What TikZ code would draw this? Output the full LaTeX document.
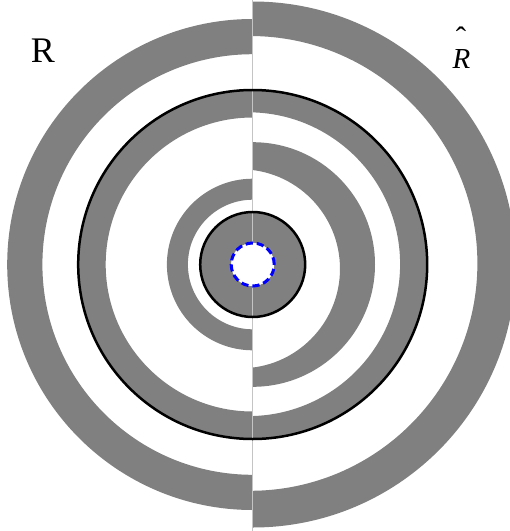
\documentclass[tikz,border=0pt]{standalone}
\usepackage{fontspec}
\setmainfont{Liberation Serif}
\definecolor{ringgray}{HTML}{808080}
\definecolor{seamgray}{HTML}{C4C4C4}
\tikzset{
  band/.style={fill=ringgray, even odd rule},
  ringline/.style={draw=black, line width=2.5pt},
  seamline/.style={draw=seamgray, line width=0.8pt},
  holeline/.style={draw=blue, fill=white, line width=3pt, dash pattern=on 7.3pt off 3.9pt},
  bigtxt/.style={font=\fontsize{36}{40}\selectfont, inner sep=0pt, anchor=base},
  hattxt/.style={font=\fontsize{29}{32}\selectfont\itshape, inner sep=0pt, anchor=base}
}
\begin{document}
\begin{tikzpicture}[x=1pt,y=-1pt]
\useasboundingbox (0,0) rectangle (510,531);
\clip (0,0) rectangle (510,531);
\coordinate (c) at (252.7,264.5);
% left half bands (R)
\begin{scope}
  \clip (0,0) rectangle (252.7,531);
  \fill[band] (c) circle (245.5pt) (c) circle (210.3pt);
  \fill[band] (c) circle (174.5pt) (c) circle (147pt);
  \fill[band] (c) circle (85.8pt) (c) circle (64.8pt);
\end{scope}
% right half bands (R hat)
\begin{scope}
  \clip (252.7,0) rectangle (510,531);
  \fill[band] (c) circle (263pt) (250,263.4) circle (227.4pt);
  \fill[band] (c) circle (174.5pt) (248.2,264.2) circle (151.9pt);
  \fill[band] (c) circle (122.3pt) (240.5,268.8) circle (99.5pt);
\end{scope}
% inner disk
\fill[band] (c) circle (52.5pt) (c) circle (21.5pt);
% seam
\coordinate (st) at (252.7,0);
\coordinate (sb) at (252.7,531);
\draw[seamline] (st) -- (sb);
% black circles
\draw[ringline] (c) circle (174.5pt);
\draw[ringline] (c) circle (52.5pt);
% blue dashed hole
\draw[holeline] (c) circle (21.5pt);
% labels
\node[bigtxt] (R) at (43,62.3) {R};
\node[hattxt] (Rh) at (461.5,68.3) {R};
\node[hattxt, font=\fontsize{31}{34}\selectfont] (hat) at (461,48.5) {ˆ};
\end{tikzpicture}
\end{document}
